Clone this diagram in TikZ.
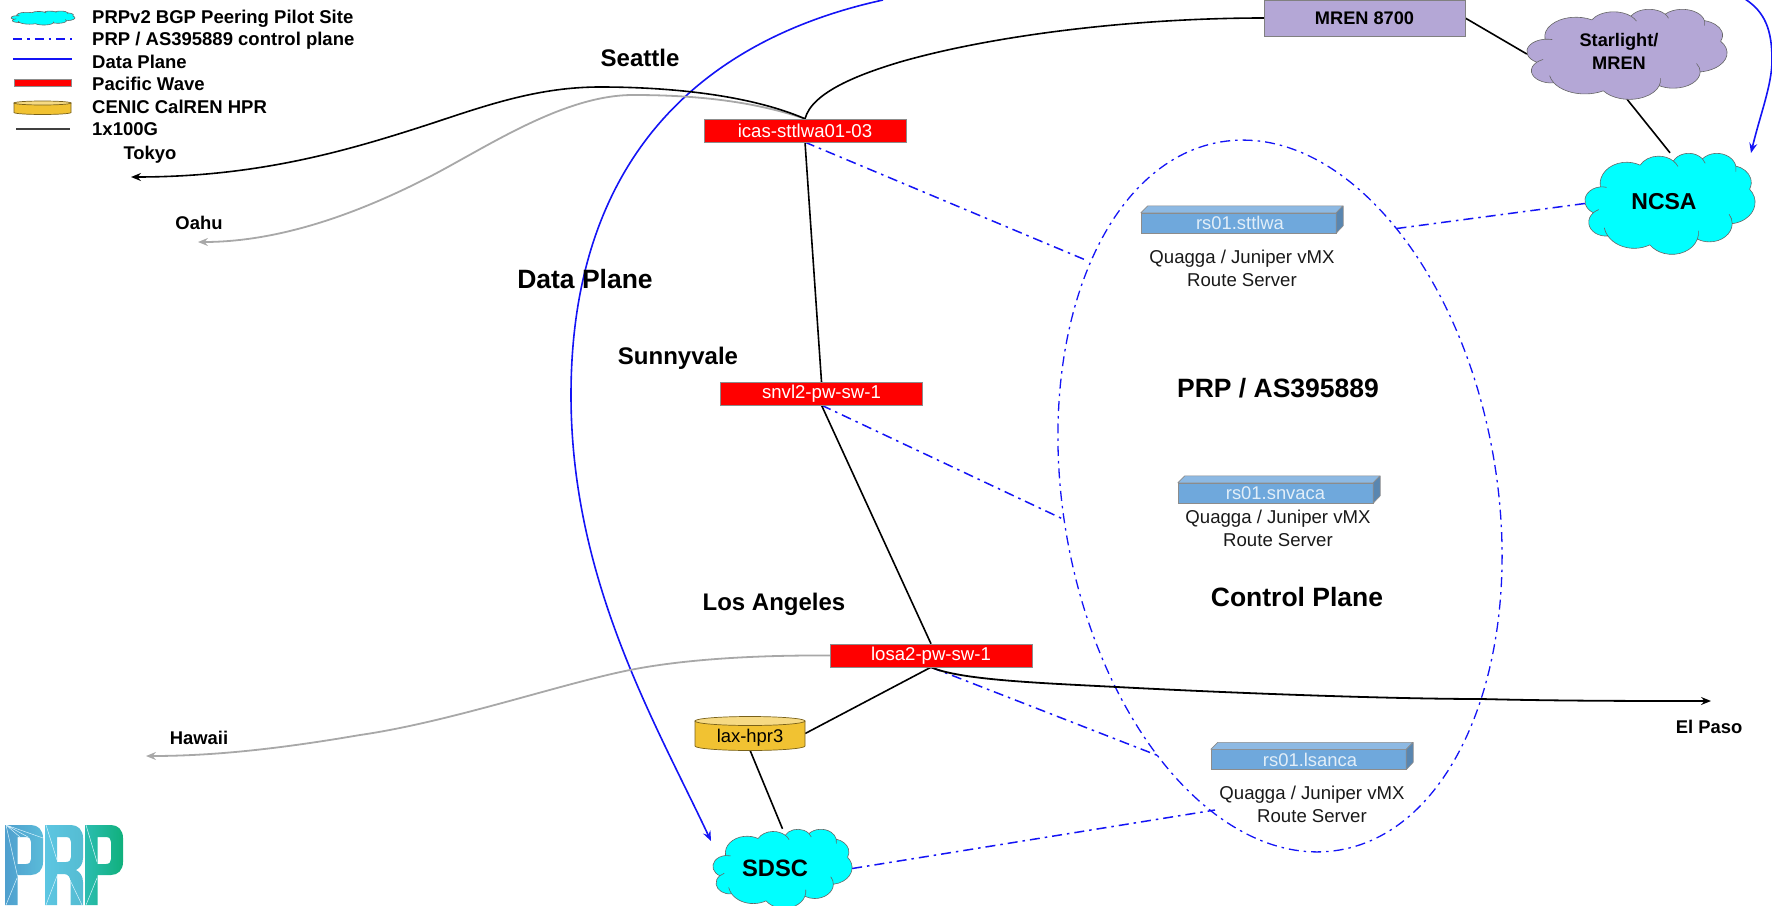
\documentclass[tikz,border=0pt]{standalone}
\usepackage{fontspec}
\setmainfont{Liberation Sans}
\usetikzlibrary{arrows.meta,shapes.geometric}
\definecolor{cyanc}{HTML}{00FFFF}
\definecolor{purp}{HTML}{B4A7D6}
\definecolor{rsfront}{HTML}{6FA8DC}
\definecolor{rstop}{HTML}{8DB9E3}
\definecolor{rsside}{HTML}{5986B0}
\definecolor{gold}{HTML}{F1C232}
\definecolor{goldtop}{HTML}{F6DA84}
\definecolor{blueline}{HTML}{1414F5}
\definecolor{greyline}{HTML}{A8A8A8}
\definecolor{logoa}{HTML}{4F9FCE}
\definecolor{logob}{HTML}{5ABBD9}
\definecolor{logoc}{HTML}{5CC6E2}
\definecolor{logod}{HTML}{55BCD2}
\definecolor{logoe}{HTML}{2BBDB0}
\definecolor{logof}{HTML}{10B07C}
\pgfdeclarelayer{links}
\pgfsetlayers{links,main}
\tikzset{
  swbox/.style={draw=black!45,fill=red,text=white,inner sep=0pt,minimum width=202pt,minimum height=23pt,font=\fontsize{18.6}{22}\selectfont},
  rsbox/.style={draw=black!45,fill=rsfront,text=white!80!rsfront,inner sep=0pt,minimum width=195pt,minimum height=20pt,font=\fontsize{18.4}{22}\selectfont},
  cloudbox/.style={inner sep=0pt,align=center,text=black},
  place/.style={font=\fontsize{24}{28}\selectfont\bfseries,inner sep=0pt},
  bigtext/.style={font=\fontsize{26.5}{30}\selectfont\bfseries,inner sep=0pt},
  smallbold/.style={font=\fontsize{18.4}{22}\selectfont\bfseries,inner sep=0pt,text height=13pt,text depth=4pt},
  legtext/.style={font=\fontsize{18.5}{22}\selectfont\bfseries,inner sep=0pt,anchor=west,text height=13pt,text depth=4pt},
  plain/.style={font=\fontsize{18.6}{23}\selectfont,inner sep=0pt,align=center,text=black!90},
  blk/.style={draw=black,line width=1.6pt},
  gry/.style={draw=greyline,line width=1.8pt},
  data/.style={draw=blueline,line width=1.6pt},
  ctrl/.style={draw=blueline,line width=1.5pt,dash pattern=on 10pt off 5pt on 2.5pt off 5pt},
  tipb/.style={-{Stealth[length=10pt,width=8pt,inset=3.5pt]}},
  cloudedge/.style={draw=black!60,line width=0.6pt,line join=round},
}
\def\cloudoutline{(39pt,143.7pt)
 arc[start angle=-187.74,end angle=-59.64,x radius=67.53pt,y radius=91.9pt]
 arc[start angle=-152.02,end angle=-45.45,x radius=53.33pt,y radius=72.67pt]
 arc[start angle=-45.45,end angle=-23,x radius=53.33pt,y radius=72.67pt]
 arc[start angle=-23,end angle=-45.45,x radius=53.33pt,y radius=72.67pt]
 arc[start angle=-153.48,end angle=-37.31,x radius=43.65pt,y radius=59.45pt]
 arc[start angle=-37.31,end angle=-17,x radius=43.65pt,y radius=59.45pt]
 arc[start angle=-17,end angle=-37.31,x radius=43.65pt,y radius=59.45pt]
 arc[start angle=-139.71,end angle=-10.21,x radius=48.57pt,y radius=65.95pt]
 arc[start angle=-10.21,end angle=10,x radius=48.57pt,y radius=65.95pt]
 arc[start angle=10,end angle=-10.21,x radius=48.57pt,y radius=65.95pt]
 arc[start angle=-74.77,end angle=23.21,x radius=53.33pt,y radius=72.73pt]
 arc[start angle=-37.54,end angle=81.86,x radius=67.75pt,y radius=92.2pt]
 arc[start angle=0.46,end angle=-30,x radius=57.85pt,y radius=78.67pt]
 arc[start angle=-30,end angle=0.46,x radius=57.85pt,y radius=78.67pt]
 arc[start angle=0.46,end angle=121.97,x radius=57.85pt,y radius=78.67pt]
 arc[start angle=16.84,end angle=-5,x radius=67.52pt,y radius=92.15pt]
 arc[start angle=-5,end angle=16.84,x radius=67.52pt,y radius=92.15pt]
 arc[start angle=16.84,end angle=146.24,x radius=67.52pt,y radius=92.15pt]
 arc[start angle=58.98,end angle=150.18,x radius=77.2pt,y radius=105.43pt]
 arc[start angle=150.18,end angle=170,x radius=77.2pt,y radius=105.43pt]
 arc[start angle=170,end angle=150.18,x radius=77.2pt,y radius=105.43pt]
 arc[start angle=-276.69,end angle=-136.9,x radius=43.6pt,y radius=59.18pt]
 arc[start angle=-136.9,end angle=-115,x radius=43.6pt,y radius=59.18pt]
 arc[start angle=-115,end angle=-136.9,x radius=43.6pt,y radius=59.18pt]
 arc[start angle=-239.66,end angle=-95.89,x radius=43.45pt,y radius=59.45pt]
 arc[start angle=-95.89,end angle=-75,x radius=43.45pt,y radius=59.45pt]
 arc[start angle=-75,end angle=-95.89,x radius=43.45pt,y radius=59.45pt]
 -- cycle}
% x-left, y-top, width, height, fill
\newcommand\pcloud[5]{%
  \pgfmathsetmacro\csx{#3/432}\pgfmathsetmacro\csy{#4/432}%
  \begin{scope}[shift={(#1,#2)},xscale=\csx,yscale=-\csy]
    \path[cloudedge,fill=#5] \cloudoutline;
  \end{scope}}
% box with top and side faces
\newcommand\rsfaces[1]{%
  \fill[rstop,draw=black!45,line width=.6pt,line join=round] (#1.north west) -- ++(7,-7) -- ++(195,0) -- (#1.north east) -- cycle;
  \fill[rsside,draw=black!45,line width=.6pt,line join=round] (#1.north east) -- ++(7,-7) -- ++(0,20) -- (#1.south east) -- cycle;}
% cylinder
\newcommand\pcyl[5]{% left right top bottom ry
  \path[fill=gold,draw=black!50!gold,line width=.7pt] (#1,#3) -- (#1,#4) arc[start angle=180,end angle=360,x radius={(#2-#1)/2*1pt},y radius=#5pt] -- (#2,#3) -- cycle;
  \path[fill=goldtop,draw=black!50!gold,line width=.7pt] ({(#1+#2)/2},#3) ellipse[x radius={(#2-#1)/2*1pt},y radius=#5pt];}
% logo P letter
\newcommand\logoP[3]{% x0 left colour, right colour
  \path[even odd rule,left color=#2,right color=#3]
    (#1,825) -- ({#1+26},825) .. controls ({#1+33},825) and ({#1+38},830) .. ({#1+38},838)
    -- ({#1+38},862) .. controls ({#1+38},870) and ({#1+33},875) .. ({#1+26},875)
    -- ({#1+12.5},875) -- ({#1+12.5},905) -- (#1,905) -- cycle
    ({#1+12.5},837) -- ({#1+21},837) .. controls ({#1+24.5},837) and ({#1+26},839) .. ({#1+26},842)
    -- ({#1+26},859) .. controls ({#1+26},862) and ({#1+24.5},864) .. ({#1+21},864)
    -- ({#1+12.5},864) -- cycle;}
\begin{document}
\begin{tikzpicture}[x=1pt,y=-1pt]
\useasboundingbox (0,0) rectangle (1772,905);

% free ends
\coordinate (tokyoEnd) at (131,177);
\coordinate (oahuEnd) at (198,242);
\coordinate (hawaiiEnd) at (146,756);
\coordinate (elpasoEnd) at (1711,701);
\coordinate (dataTop) at (883,0);
\coordinate (dataBend) at (571,395);
\coordinate (dataEnd) at (711,841);
\coordinate (dataTopR) at (1745,-1);
\coordinate (dataBendR) at (1772,60);
\coordinate (dataEndR) at (1751,153);
\coordinate (e1) at (1088,261);
\coordinate (e2) at (1065,520);
\coordinate (e3) at (1159,756);
\coordinate (e4) at (1215,810);
\coordinate (e5) at (1393,229);

% nodes (boxes)
\node[swbox] (icas) at (805,130.5) {icas-sttlwa01-03};
\node[swbox] (snvl) at (821.5,393.5) {snvl2-pw-sw-1};
\node[swbox] (losa) at (931,655.5) {losa2-pw-sw-1};
\pcyl{695}{805}{721}{746}{4.5}
\node[inner sep=0pt,minimum width=110pt,minimum height=33pt,font=\fontsize{18.4}{22}\selectfont,text height=21pt,text depth=4pt] (lax) at (750,733.5) {lax-hpr3};
\node[draw=black!50,fill=purp,inner sep=0pt,minimum width=201pt,minimum height=36pt,font=\fontsize{18.2}{22}\selectfont\bfseries] (mren) at (1364.5,18) {MREN 8700};
\pcloud{1527}{9}{200}{90}{purp}
\pcloud{1585}{153}{170}{101}{cyanc}
\pcloud{713}{829}{139}{79}{cyanc}
\node[cloudbox,minimum width=200pt,minimum height=90pt,font=\fontsize{18.2}{21}\selectfont\bfseries] (star) at (1627,54) {\hspace{-16pt}\begin{tabular}{@{}c@{}}Starlight/\\[1.5pt]MREN\end{tabular}};
\node[cloudbox,minimum width=170pt,minimum height=101pt,font=\fontsize{23}{27}\selectfont\bfseries,text height=17pt,text depth=5.4pt] (ncsa) at (1670,203.5) {\hspace{-12pt}NCSA};
\node[cloudbox,minimum width=139pt,minimum height=79pt,font=\fontsize{23.7}{27}\selectfont\bfseries,text height=20pt,text depth=5pt] (sdsc) at (782.5,868.5) {\hspace{-15pt}SDSC};

\begin{pgfonlayer}{links}
% data plane
\draw[data,tipb] (dataTop) .. controls (700,40) and (571,160) .. (dataBend) .. controls (571,580) and (655,722) .. (dataEnd);
\draw[data,tipb] (dataTopR) .. controls (1765,12) and (1772,30) .. (dataBendR) .. controls (1772,85) and (1760,115) .. (dataEndR);
% control plane
\node[draw=blueline,line width=1.3pt,dash pattern=on 10pt off 5pt on 2.5pt off 5pt,ellipse,inner sep=0pt,minimum width=434pt,minimum height=718pt,rotate=9.47] (asn) at (1280,496) {};
\draw[ctrl] (icas.south) -- (e1);
\draw[ctrl] (snvl.south) -- (e2);
\draw[ctrl] (losa.south) -- (e3);
\draw[ctrl] (sdsc.east) -- (e4);
\draw[ctrl] (ncsa.west) -- (e5);
% grey and black links
\draw[gry,tipb] (icas.north) .. controls (750,100) and (690,95) .. (633,95) .. controls (565,95) and (490,145) .. (433,175) .. controls (375,205) and (290,242) .. (oahuEnd);
\draw[gry,tipb] (losa.west) .. controls (750,655) and (680,660) .. (630,670) .. controls (560,684) and (450,722) .. (360,735) .. controls (290,747) and (220,756) .. (hawaiiEnd);
\draw[blk,tipb] (icas.north) .. controls (750,95) and (670,87) .. (600,87) .. controls (540,87) and (490,104) .. (433,123) .. controls (350,150) and (260,177) .. (tokyoEnd);
\draw[blk] (icas.north) .. controls (812,92) and (860,74) .. (900,62) .. controls (990,36) and (1130,18) .. (mren.west);
\draw[blk] (icas.south) -- (snvl.north);
\draw[blk] (snvl.south) -- (losa.north);
\draw[blk] (losa.south) -- (lax.east);
\draw[blk] (lax.south) -- (sdsc.north);
\draw[blk,line width=1.8pt,tipb] (losa.south) .. controls (960,680) and (1040,683) .. (1117,687) .. controls (1250,694) and (1400,699) .. (1481,699) .. controls (1560,701) and (1640,701) .. (elpasoEnd);
\draw[blk] (mren.east) -- (star.west);
\draw[blk] (star.south) -- (ncsa.north);
\end{pgfonlayer}

% route servers
\node[rsbox] (rsa) at (1238.5,223) {\hspace{3pt}rs01.sttlwa};
\rsfaces{rsa}
\node[rsbox] (rsb) at (1275.5,493) {rs01.snvaca};
\rsfaces{rsb}
\node[rsbox] (rsc) at (1308.5,759.5) {\hspace{3pt}rs01.lsanca};
\rsfaces{rsc}
\node[plain] (qa) at (1242,268.5) {Quagga / Juniper vMX\\Route Server};
\node[plain] (qb) at (1278,528.5) {Quagga / Juniper vMX\\Route Server};
\node[plain] (qc) at (1312,804.5) {Quagga / Juniper vMX\\Route Server};

% labels
\node[place] (seattle) at (640,57.5) {Seattle};
\node[place] (sunny) at (678,358) {Sunnyvale};
\node[place] (la) at (774,604.5) {Los Angeles};
\node[bigtext] (dp) at (585,279) {Data Plane};
\node[bigtext] (as) at (1278,388) {PRP / AS395889};
\node[bigtext] (cp) at (1297,597) {Control Plane};
\node[smallbold] (tokyo) at (150,154.5) {Tokyo};
\node[smallbold] (oahu) at (199,224.5) {Oahu};
\node[smallbold] (hawaii) at (199,739.5) {Hawaii};
\node[smallbold] (elpaso) at (1709,728.5) {El Paso};

% legend
\pcloud{11}{11}{64}{14}{cyanc}
\coordinate (l1a) at (13,39); \coordinate (l1b) at (72,39);
\draw[blueline,line width=1.4pt,dash pattern=on 9pt off 5pt on 2.5pt off 5pt] (l1a) -- (l1b);
\coordinate (l2a) at (13,59); \coordinate (l2b) at (72,59);
\draw[blueline,line width=1.4pt] (l2a) -- (l2b);
\node[draw=black!45,fill=red,inner sep=0pt,minimum width=57pt,minimum height=7pt] (l3) at (42.5,82.5) {};
\pcyl{14}{71}{103}{112.5}{2}
\coordinate (l4a) at (16,129); \coordinate (l4b) at (70,129);
\draw[black!75,line width=1.4pt] (l4a) -- (l4b);
\node[legtext] (t1) at (92,19) {PRPv2 BGP Peering Pilot Site};
\node[legtext] (t2) at (92,41) {PRP / AS395889 control plane};
\node[legtext] (t3) at (92,64) {Data Plane};
\node[legtext] (t4) at (92,86) {Pacific Wave};
\node[legtext] (t5) at (92,109) {CENIC CalREN HPR};
\node[legtext] (t6) at (92,131) {1x100G};

% logo
\logoP{5}{logoa}{logob}
\path[left color=logoc,right color=logod,even odd rule]
  (45,825) -- (71,825) .. controls (78,825) and (83,830) .. (83,838)
  -- (83,858) .. controls (83,864) and (80,868) .. (76,870)
  .. controls (80,872) and (83,876) .. (83,882) -- (83,905) -- (70.5,905) -- (70.5,882)
  .. controls (70.5,877) and (68,874) .. (64,874) -- (57,874) -- (57,905) -- (45,905) -- cycle
  (57,837) -- (66,837) .. controls (69.5,837) and (71,839) .. (71,842)
  -- (71,857) .. controls (71,860) and (69.5,862) .. (66,862) -- (57,862) -- cycle;
\logoP{85}{logoe}{logof}
\draw[white!85!cyan,line width=.5pt] (6,825) -- (17.5,876) (6,825) -- (43,838) (6,825) -- (28,837) (6,825) -- (20,837) (17,878) -- (6,905);
\draw[white!85!cyan,line width=.5pt] (46,825) -- (57,860) (57,876) -- (46,905) (70,880) -- (82,905);
\draw[white!85!cyan,line width=.5pt] (86,825) -- (97,862) (97,878) -- (86,905);
\end{tikzpicture}
\end{document}
